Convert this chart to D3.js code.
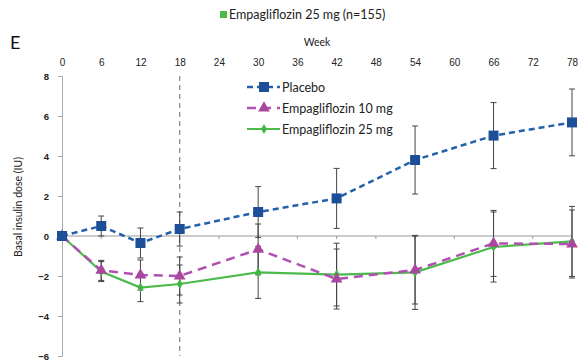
<!DOCTYPE html>
<html>
<head>
<meta charset="utf-8">
<script src="https://cdn.jsdelivr.net/npm/d3@7"></script>
<style>
  body { margin: 0; background: #fff; }
  svg { font-family: Lato, "Open Sans", sans-serif; }
  .tick text { font-size: 10px; fill: #222; }
</style>
</head>
<body>
<div id="chart"></div>
<script>
var weeks = [0, 6, 12, 18, 30, 42, 54, 66, 78];
var weekTicks = d3.range(0, 79, 6);
var yTicks = [-6, -4, -2, 0, 2, 4, 6, 8];

var placebo = [0, 0.5, -0.35, 0.35, 1.2, 1.88, 3.8, 5.02, 5.68];
var placeboErr = [0, 0.5, 0.75, 0.85, 1.27, 1.5, 1.7, 1.65, 1.67];
var empa10 = [0, -1.72, -1.95, -2.0, -0.67, -2.15, -1.7, -0.37, -0.4];
var empa10Err = [0, 0.5, 0.75, 0.95, 1.27, 1.5, 1.7, 1.65, 1.7];
var empa25 = [0, -1.78, -2.58, -2.4, -1.82, -1.93, -1.82, -0.55, -0.27];
var empa25Err = [0, 0.5, 0.7, 0.95, 1.3, 1.57, 1.85, 1.75, 1.75];

var series = [
  { name: "Placebo", values: placebo, err: placeboErr, color: "#2461ad", fill: "#1c4f97", dash: "6,4", symbol: d3.symbolSquare, size: 100, width: 2.5 },
  { name: "Empagliflozin 10 mg", values: empa10, err: empa10Err, color: "#b24fb2", fill: "#a9479f", dash: "9,6", symbol: d3.symbolTriangle, size: 60, width: 2.5 },
  { name: "Empagliflozin 25 mg", values: empa25, err: empa25Err, color: "#4cbb4c", fill: "#45b445", dash: null, symbol: d3.symbolDiamond, size: 30, width: 2.2 }
];

var width = 578, height = 364;
var svg = d3.select("#chart").append("svg")
  .attr("width", width)
  .attr("height", height);

var x = d3.scaleLinear().domain([0, 78]).range([62, 572]);
var y = d3.scaleLinear().domain([-6, 8]).range([356, 76]);

// top legend line
svg.append("rect").attr("x", 220).attr("y", 11).attr("width", 7).attr("height", 7).attr("fill", "#4cbb4c");
svg.append("text").attr("x", 229).attr("y", 19).style("font-size", "12.5px").attr("fill", "#222")
  .text("Empagliflozin 25 mg (n=155)");

svg.append("text").attr("x", 10).attr("y", 49).style("font-size", "18px").attr("fill", "#111").text("E");
svg.append("text").attr("x", 317).attr("y", 46).attr("text-anchor", "middle").style("font-size", "10.5px").attr("fill", "#222").text("Week");

// week labels on top (no line)
var xAxis = svg.append("g")
  .attr("transform", "translate(0,66)")
  .call(d3.axisTop(x).tickValues(weekTicks).tickSize(0).tickPadding(0));
xAxis.select(".domain").remove();

// y axis
var yAxis = svg.append("g")
  .attr("transform", "translate(" + x(0) + ",0)")
  .call(d3.axisLeft(y).tickValues(yTicks).tickSize(4).tickPadding(9).tickFormat(d3.format("d")));
yAxis.select(".domain").attr("stroke", "#aaa");
yAxis.selectAll(".tick line").attr("stroke", "#aaa");
yAxis.selectAll(".tick text").style("font-weight", "bold").style("font-size", "9.5px");

svg.append("text")
  .attr("transform", "translate(22,207) rotate(-90)")
  .attr("text-anchor", "middle")
  .style("font-size", "10.5px").attr("fill", "#222")
  .text("Basal insulin dose (IU)");

// zero line with small ticks
svg.append("line").attr("x1", x(0)).attr("x2", x(78)).attr("y1", y(0)).attr("y2", y(0))
  .attr("stroke", "#999").attr("stroke-width", 1);
svg.selectAll(".ztick").data(weekTicks).enter().append("line")
  .attr("x1", function (d) { return x(d); }).attr("x2", function (d) { return x(d); })
  .attr("y1", y(0)).attr("y2", y(0) + 3).attr("stroke", "#999");

// dashed line at week 18
svg.append("line").attr("x1", x(18)).attr("x2", x(18)).attr("y1", y(8)).attr("y2", y(-6))
  .attr("stroke", "#888").attr("stroke-width", 1.2).attr("stroke-dasharray", "5,4");

// error bars
series.forEach(function (s) {
  var g = svg.append("g");
  weeks.forEach(function (w, i) {
    if (!s.err[i]) return;
    var lo = s.values[i] - s.err[i], hi = s.values[i] + s.err[i];
    g.append("line").attr("x1", x(w)).attr("x2", x(w)).attr("y1", y(lo)).attr("y2", y(hi))
      .attr("stroke", "#444").attr("stroke-width", 1);
    [lo, hi].forEach(function (v) {
      g.append("line").attr("x1", x(w) - 3).attr("x2", x(w) + 3).attr("y1", y(v)).attr("y2", y(v))
        .attr("stroke", "#444").attr("stroke-width", 1);
    });
  });
});

var line = d3.line()
  .x(function (d, i) { return x(weeks[i]); })
  .y(function (d) { return y(d); });

series.slice().reverse().forEach(function (s) {
  svg.append("path").datum(s.values)
    .attr("d", line)
    .attr("fill", "none")
    .attr("stroke", s.color)
    .attr("stroke-width", s.width)
    .attr("stroke-dasharray", s.dash);
  svg.selectAll(null).data(s.values).enter().append("path")
    .attr("transform", function (d, i) { return "translate(" + x(weeks[i]) + "," + y(d) + ")"; })
    .attr("d", d3.symbol().type(s.symbol).size(s.size))
    .attr("fill", s.fill);
});

// legend
var legend = svg.selectAll(".legend").data(series).enter().append("g")
  .attr("transform", function (d, i) { return "translate(247," + (87 + i * 21) + ")"; });
legend.append("line").attr("x1", 0).attr("x2", 33).attr("y1", 0).attr("y2", 0)
  .attr("stroke", function (d) { return d.color; })
  .attr("stroke-width", function (d) { return d.width; })
  .attr("stroke-dasharray", function (d) { return d.dash; });
legend.append("path").attr("transform", "translate(17,0)")
  .attr("d", function (d) { return d3.symbol().type(d.symbol).size(d.size)(); })
  .attr("fill", function (d) { return d.fill; });
legend.append("text").attr("x", 35).attr("y", 4.5)
  .style("font-size", "12.5px").attr("fill", "#222")
  .text(function (d) { return d.name; });
</script>
</body>
</html>
